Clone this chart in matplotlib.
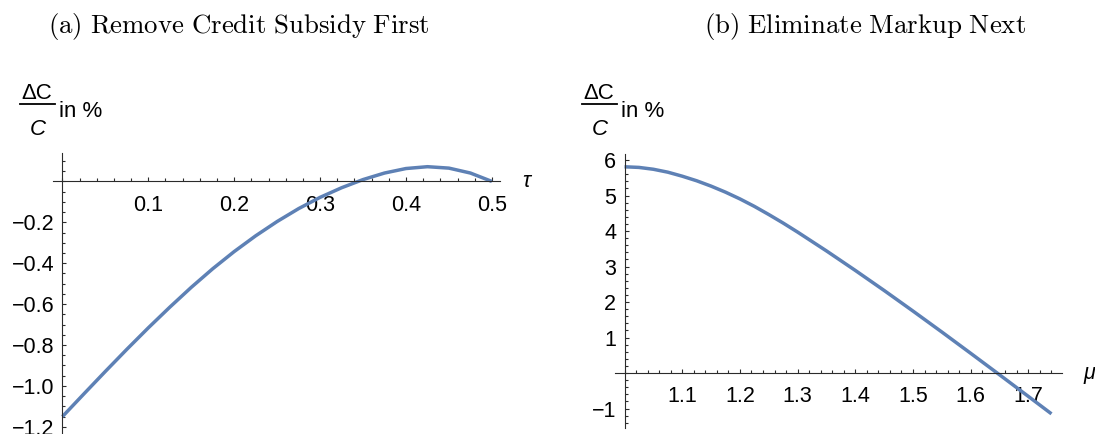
import matplotlib
matplotlib.use('Agg')
import matplotlib.pyplot as plt
from matplotlib.lines import Line2D
from matplotlib.ticker import MultipleLocator

plt.rcParams['font.family'] = 'Liberation Sans'

# panel (a): welfare change vs credit subsidy tau
tau = [0.000, 0.025, 0.050, 0.075, 0.100, 0.125, 0.150, 0.175, 0.200, 0.225,
       0.250, 0.275, 0.300, 0.325, 0.350, 0.375, 0.400, 0.425, 0.450, 0.475, 0.500]
dc_tau = [-1.150, -1.039, -0.929, -0.821, -0.716, -0.615, -0.518, -0.427, -0.343,
          -0.266, -0.196, -0.133, -0.078, -0.031, 0.009, 0.041, 0.063, 0.072,
          0.065, 0.041, 0.000]
tau_xticks = [0.1, 0.2, 0.3, 0.4, 0.5]
tau_xlabels = ['0.1', '0.2', '0.3', '0.4', '0.5']
tau_yticks = [-1.2, -1.0, -0.8, -0.6, -0.4, -0.2]
tau_ylabels = ['\u22121.2', '\u22121.0', '\u22120.8', '\u22120.6', '\u22120.4', '\u22120.2']

# panel (b): welfare change vs markup mu
mu = [1.000, 1.025, 1.050, 1.075, 1.100, 1.125, 1.150, 1.175, 1.200, 1.225, 1.250,
      1.275, 1.300, 1.350, 1.400, 1.450, 1.500, 1.550, 1.600, 1.650, 1.700, 1.740]
dc_mu = [5.810, 5.792, 5.740, 5.658, 5.545, 5.416, 5.265, 5.095, 4.905, 4.695, 4.465,
         4.224, 3.970, 3.440, 2.890, 2.325, 1.745, 1.155, 0.555, -0.050, -0.660, -1.150]
mu_xticks = [1.1, 1.2, 1.3, 1.4, 1.5, 1.6, 1.7]
mu_xlabels = ['1.1', '1.2', '1.3', '1.4', '1.5', '1.6', '1.7']
mu_yticks = [-1, 1, 2, 3, 4, 5, 6]
mu_ylabels = ['\u22121', '1', '2', '3', '4', '5', '6']

titles = ['(a) Remove Credit Subsidy First', '(b) Eliminate Markup Next']

W, H = 1095, 434
LINE = '#5e81b5'
AXC = '#2b2b2b'

fig = plt.figure(figsize=(W / 100, H / 100), dpi=100)


def fx(px):
    return px / W


def fy(py):
    return 1 - py / H


def px_axes(x0, y0, x1, y1):
    # box given in image pixels, origin top-left
    return fig.add_axes([fx(x0), fy(y1), (x1 - x0) / W, (y1 - y0) / H])


def style_axes(ax, x_origin, xticks, xlabels, yticks, ylabels, xminor, yminor, var):
    for s in ['top', 'right']:
        ax.spines[s].set_visible(False)
    ax.spines['left'].set_position(('data', x_origin))
    ax.spines['bottom'].set_position(('data', 0))
    for s in ['left', 'bottom']:
        ax.spines[s].set_color(AXC)
        ax.spines[s].set_linewidth(0.8)
    ax.set_xticks(xticks, xlabels)
    ax.set_yticks(yticks, ylabels)
    ax.xaxis.set_minor_locator(MultipleLocator(xminor))
    ax.yaxis.set_minor_locator(MultipleLocator(yminor))
    ax.tick_params(which='both', direction='in', color=AXC, width=0.8)
    ax.tick_params(which='major', length=3.2, labelsize=15.5)
    ax.tick_params(which='minor', length=1.9)
    ax.tick_params(axis='x', pad=9.5)
    ax.tick_params(axis='y', pad=6)
    ax.patch.set_visible(False)
    ax.annotate(var, xy=(1, 0), xycoords=('axes fraction', 'data'), xytext=(16, 0),
                textcoords='offset points', ha='left', va='center', fontsize=15.5,
                fontstyle='italic', annotation_clip=False)


def frac_label(x0):
    # Delta C / C in %, drawn as stacked pieces like the reference
    fig.text(fx(x0 + 17), fy(99), '\u0394C', fontsize=16, ha='center', va='baseline')
    fig.add_artist(Line2D([fx(x0 - 0.5), fx(x0 + 34.5)], [fy(104.3), fy(104.3)],
                          color='black', lw=1.3))
    fig.text(fx(x0 + 18), fy(135), 'C', fontsize=16, fontstyle='italic',
             ha='center', va='baseline')
    fig.text(fx(x0 + 39), fy(117), 'in %', fontsize=16, ha='left', va='baseline')


ax1 = px_axes(53.3, 153.4, 499.6, 434)
ax1.plot(tau, dc_tau, color=LINE, lw=2.5, solid_capstyle='butt', clip_on=False)
ax1.set_xlim(-0.0106, 0.509)
ax1.set_ylim(-1.235, 0.137)
style_axes(ax1, 0, tau_xticks, tau_xlabels, tau_yticks, tau_ylabels, 0.02, 0.05, '\u03c4')

ax2 = px_axes(615, 154, 1061.7, 428.4)
ax2.plot(mu, dc_mu, color=LINE, lw=2.5, solid_capstyle='butt', clip_on=False)
ax2.set_xlim(0.9835, 1.7577)
ax2.set_ylim(-1.56, 6.17)
style_axes(ax2, 1.0, mu_xticks, mu_xlabels, mu_yticks, mu_ylabels, 0.02, 0.2, '\u03bc')

for xc, t in zip([239, 865], titles):
    fig.text(fx(xc), fy(32.5), r'$\mathrm{' + t.replace(' ', r'\ ') + '}$',
             math_fontfamily='cm', fontsize=19.3, ha='center', va='baseline')

for xl in [20, 582]:
    frac_label(xl)

fig.savefig('out.png', dpi=100)
